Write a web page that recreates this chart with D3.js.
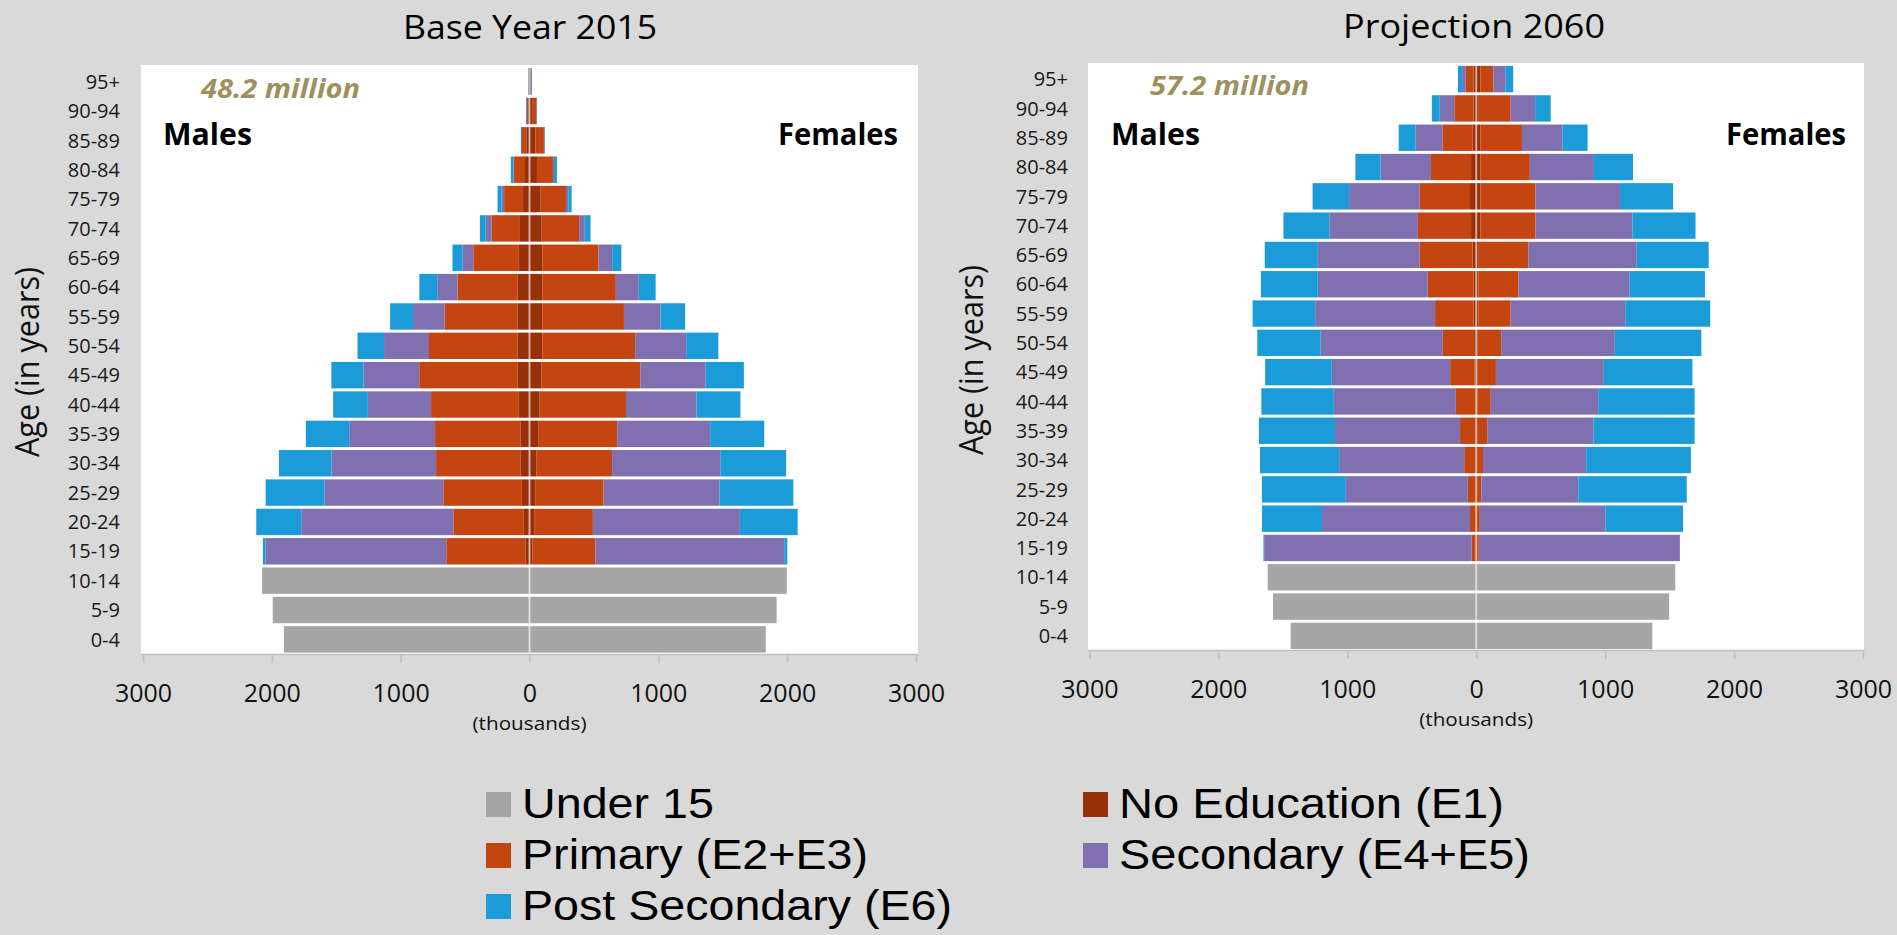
<!DOCTYPE html>
<html><head><meta charset="utf-8">
<script src="https://cdn.jsdelivr.net/npm/d3@7"></script>
<style>
html,body{margin:0;padding:0;background:#d9d9d9;}
svg{display:block;}
</style></head><body>
<svg id="chart" width="1897" height="935"></svg>
<script>
// ---------- DATA (thousands), ordered 0-4 ... 95+ ----------
const ageGroups = ["0-4","5-9","10-14","15-19","20-24","25-29","30-34","35-39","40-44","45-49",
                   "50-54","55-59","60-64","65-69","70-74","75-79","80-84","85-89","90-94","95+"];
const tickValues = [-3000,-2000,-1000,0,1000,2000,3000];
const categories = ["Under 15","No Education (E1)","Primary (E2+E3)","Secondary (E4+E5)","Post Secondary (E6)"];
const categoryColors = ["#a6a6a6","#973109","#c4450f","#8070b0","#1c9bd9"];
const legendOrder = [0,1,2,3,4];

// Base year 2015 - males
const m2015_u15 = [1906,1993,2076,0,0,0,0,0,0,0,0,0,0,0,0,0,0,0,0,0];
const m2015_e1  = [0,0,0,32,44,59,71,71,83,91,91,91,91,83,74,50,35,25,10,3];
const m2015_e2  = [0,0,0,614,547,610,654,662,681,765,689,567,467,353,220,147,85,40,13,4];
const m2015_e4  = [0,0,0,1403,1181,923,812,666,491,432,349,246,158,83,47,20,5,1,0.5,0.5];
const m2015_e6  = [0,0,0,20,349,456,408,337,269,250,206,178,139,79,44,31,20,1,0.5,0.5];
// Base year 2015 - females
const f2015_u15 = [1834,1918,1997,0,0,0,0,0,0,0,0,0,0,0,0,0,0,0,0,0];
const f2015_e1  = [0,0,0,24,36,48,55,67,79,91,99,99,99,99,95,87,58,45,20,6];
const f2015_e2  = [0,0,0,487,456,527,586,614,670,769,721,634,571,436,290,196,124,67,33,8];
const f2015_e4  = [0,0,0,1466,1141,899,840,721,547,507,396,285,178,107,44,18,8,1,1,0.5];
const f2015_e6  = [0,0,0,24,448,574,511,420,341,297,250,190,131,71,45,26,23,2,1,0.5];

// Projection 2060 - males
const m2060_u15 = [1439,1576,1617,0,0,0,0,0,0,0,0,0,0,0,0,0,0,0,0,0];
const m2060_e1  = [0,0,0,8,8,8,8,8,8,12,16,20,20,28,40,48,40,28,20,20];
const m2060_e2  = [0,0,0,28,40,57,85,117,150,190,243,299,356,412,412,392,311,234,150,61];
const m2060_e4  = [0,0,0,1609,1148,946,970,970,946,918,950,930,853,788,687,546,392,210,113,28];
const m2060_e6  = [0,0,0,5,465,651,614,590,562,517,489,485,441,412,356,283,194,129,61,32];
// Projection 2060 - females
const f2060_u15 = [1366,1496,1544,0,0,0,0,0,0,0,0,0,0,0,0,0,0,0,0,0];
const f2060_e1  = [0,0,0,4,5,6,6,6,8,12,12,16,16,20,32,32,32,32,20,32];
const f2060_e2  = [0,0,0,16,23,34,47,79,105,141,182,251,311,384,428,428,384,323,247,101];
const f2060_e4  = [0,0,0,1560,974,752,800,825,833,837,881,889,861,841,752,655,497,315,190,93];
const f2060_e6  = [0,0,0,0,602,841,812,784,748,687,671,659,586,558,489,412,303,194,121,61];

// ---------- LAYOUT ----------
const panels = [
  { title:"Base Year 2015", titleX:530, titleLen:254, titleY:39,
    total:"48.2 million", totalX:201, totalY:98,
    malesX:163, femalesX:778, sexY:145,
    xRange:[143,916], rect:[141,65,918,654], yRange:[655.5,65.5], axisY:654,
    labelX:120, ageTitleX:27, ageTitleY:362,
    males:[m2015_u15,m2015_e1,m2015_e2,m2015_e4,m2015_e6],
    females:[f2015_u15,f2015_e1,f2015_e2,f2015_e4,f2015_e6] },
  { title:"Projection 2060", titleX:1474, titleLen:262, titleY:38,
    total:"57.2 million", totalX:1150, totalY:95,
    malesX:1111, femalesX:1726, sexY:145,
    xRange:[1089.4,1863], rect:[1088,63,1864,650], yRange:[652,63], axisY:650,
    labelX:1068, ageTitleX:971, ageTitleY:360,
    males:[m2060_u15,m2060_e1,m2060_e2,m2060_e4,m2060_e6],
    females:[f2060_u15,f2060_e1,f2060_e2,f2060_e4,f2060_e6] }
];

const svg = d3.select("#chart");
svg.append("rect").attr("width",1897).attr("height",935).attr("fill","#d9d9d9");

const FONT = "'Open Sans', 'DejaVu Sans', sans-serif";

panels.forEach(p => {
  const g = svg.append("g");
  const x = d3.scaleLinear().domain([-3000,3000]).range(p.xRange);
  const y = d3.scaleBand().domain(ageGroups).range(p.yRange).padding(0.1);

  g.append("rect").attr("x",p.rect[0]).attr("y",p.rect[1])
    .attr("width",p.rect[2]-p.rect[0]).attr("height",p.rect[3]-p.rect[1]).attr("fill","#ffffff");

  const segs = [];
  ageGroups.forEach((age,i) => {
    let cm = 0, cf = 0;
    categories.forEach((c,k) => {
      const vm = p.males[k][i], vf = p.females[k][i];
      if (vm > 0) segs.push({age, k, a:-(cm+vm), b:-cm});
      if (vf > 0) segs.push({age, k, a:cf, b:cf+vf});
      cm += vm; cf += vf;
    });
  });
  g.append("g").selectAll("rect").data(segs).join("rect")
    .attr("x", d => x(d.a))
    .attr("width", d => Math.max(0.6, x(d.b)-x(d.a)))
    .attr("y", d => y(d.age))
    .attr("height", y.bandwidth())
    .attr("fill", d => categoryColors[d.k]);

  g.append("line").attr("x1",x(0)).attr("x2",x(0))
    .attr("y1", y(ageGroups[ageGroups.length-1])).attr("y2", y(ageGroups[0])+y.bandwidth())
    .attr("stroke","#ffffff").attr("stroke-opacity",0.55).attr("stroke-width",2);

  const ax = g.append("g").attr("transform",`translate(0,${p.axisY})`)
    .call(d3.axisBottom(x).tickValues(tickValues).tickFormat(v => Math.abs(v)).tickSize(9).tickPadding(21));
  ax.select(".domain").attr("stroke","#bfbfbf").attr("stroke-width",1.5)
    .attr("d", `M${p.rect[0]},0.5H${p.rect[2]}`);
  ax.selectAll(".tick line").attr("stroke","#bfbfbf").attr("stroke-width",1.5);
  ax.selectAll(".tick text").attr("font-family",FONT).attr("font-size",25).attr("fill","#111");

  g.append("text").attr("x",x(0)).attr("y",p.axisY+76).attr("text-anchor","middle")
    .attr("font-family",FONT).attr("font-size",19).attr("fill","#111")
    .attr("textLength",114).attr("lengthAdjust","spacingAndGlyphs").text("(thousands)");

  g.append("g").selectAll("text").data(ageGroups).join("text")
    .attr("x",p.labelX).attr("y", d => y(d)+y.bandwidth()/2).attr("dy","0.36em")
    .attr("text-anchor","end").attr("font-family",FONT).attr("font-size",20).attr("fill","#1a1a1a")
    .text(d => d);

  g.append("text")
    .attr("transform",`translate(${p.ageTitleX},${p.ageTitleY}) scale(1.2,1) rotate(-90)`)
    .attr("text-anchor","middle").attr("dy","0.35em")
    .attr("font-family",FONT).attr("font-size",28).attr("fill","#111")
    .attr("textLength",190).attr("lengthAdjust","spacingAndGlyphs")
    .text("Age (in years)");

  g.append("text").attr("x",p.titleX).attr("y",p.titleY).attr("text-anchor","middle")
    .attr("font-family",FONT).attr("font-size",32).attr("fill","#000")
    .attr("textLength",p.titleLen).attr("lengthAdjust","spacingAndGlyphs").text(p.title);

  g.append("text").attr("x",p.totalX).attr("y",p.totalY)
    .attr("font-family",FONT).attr("font-size",27).attr("font-weight","bold").attr("font-style","italic")
    .attr("fill","#9e8f5e").attr("textLength",159).attr("lengthAdjust","spacingAndGlyphs").text(p.total);

  g.append("text").attr("x",p.malesX).attr("y",p.sexY)
    .attr("font-family",FONT).attr("font-size",31).attr("font-weight","bold").attr("fill","#000")
    .attr("textLength",89).attr("lengthAdjust","spacingAndGlyphs").text("Males");
  g.append("text").attr("x",p.femalesX).attr("y",p.sexY)
    .attr("font-family",FONT).attr("font-size",31).attr("font-weight","bold").attr("fill","#000")
    .attr("textLength",120).attr("lengthAdjust","spacingAndGlyphs").text("Females");
});

// ---------- LEGEND ----------
const legendPos = [
  {sx:486, tx:522, base:818, len:192},
  {sx:1083, tx:1119, base:818, len:385},
  {sx:486, tx:522, base:869, len:346},
  {sx:1083, tx:1119, base:869, len:411},
  {sx:486, tx:522, base:920, len:430}
];
const lg = svg.append("g");
legendOrder.forEach((k,i) => {
  const L = legendPos[i];
  lg.append("rect").attr("x",L.sx).attr("y",L.base-26).attr("width",25).attr("height",25)
    .attr("fill",categoryColors[k]);
  lg.append("text").attr("x",L.tx).attr("y",L.base)
    .attr("font-family","'Liberation Sans Narrow', 'Liberation Sans', Arial, sans-serif").attr("font-size",43).attr("fill","#000")
    .attr("textLength",L.len).attr("lengthAdjust","spacingAndGlyphs").text(categories[k]);
});
</script>
</body></html>
